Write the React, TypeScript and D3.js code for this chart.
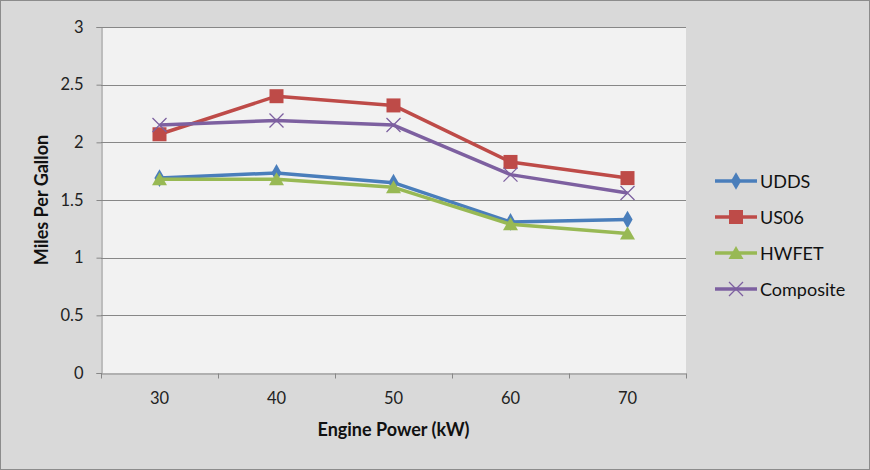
import React, { useEffect, useRef } from 'react';
import * as d3 from 'd3';

const enginePower = ['30', '40', '50', '60', '70'];
const udds = [1.69, 1.735, 1.65, 1.31, 1.33];
const us06 = [2.07, 2.4, 2.32, 1.83, 1.69];
const hwfet = [1.68, 1.68, 1.61, 1.29, 1.21];
const composite = [2.15, 2.19, 2.15, 1.72, 1.56];
const yTicks = [0, 0.5, 1, 1.5, 2, 2.5, 3];

const series = [
  { name: 'UDDS', values: udds, color: '#4a7ebb', marker: 'diamond' },
  { name: 'US06', values: us06, color: '#be4b48', marker: 'square' },
  { name: 'HWFET', values: hwfet, color: '#98b954', marker: 'triangle' },
  { name: 'Composite', values: composite, color: '#7d60a0', marker: 'x' },
];

const App = () => {
  const svgRef = useRef(null);

  useEffect(() => {
    const width = 870;
    const height = 470;
    const margin = { top: 27, right: 184, bottom: 97, left: 101 };
    const font = 'Lato, "Open Sans", sans-serif';

    const svg = d3.select(svgRef.current);
    svg.selectAll('*').remove();
    svg.attr('width', width).attr('height', height);

    // chart background + border
    svg.append('rect')
      .attr('x', 0.5).attr('y', 0.5)
      .attr('width', width - 1).attr('height', height - 1)
      .attr('fill', '#d9d9d9')
      .attr('stroke', '#8c8c8c');

    const x = d3.scaleBand().domain(enginePower).range([margin.left, width - margin.right]);
    const y = d3.scaleLinear().domain([0, 3]).range([height - margin.bottom, margin.top]);

    // plot area
    svg.append('rect')
      .attr('x', margin.left).attr('y', margin.top)
      .attr('width', width - margin.left - margin.right)
      .attr('height', height - margin.top - margin.bottom)
      .attr('fill', '#f2f2f2');

    // gridlines
    svg.append('g')
      .selectAll('line')
      .data(yTicks.filter(d => d > 0))
      .enter().append('line')
      .attr('x1', margin.left).attr('x2', width - margin.right)
      .attr('y1', d => Math.round(y(d)) + 0.5).attr('y2', d => Math.round(y(d)) + 0.5)
      .attr('stroke', '#878787').attr('stroke-width', 1.2);

    // y axis
    const yAxis = svg.append('g')
      .attr('transform', `translate(${margin.left + 0.5},0)`)
      .call(d3.axisLeft(y).tickValues(yTicks).tickSize(5).tickPadding(13).tickFormat(d3.format('')));
    yAxis.select('.domain').attr('stroke', '#878787');
    yAxis.selectAll('.tick line').attr('stroke', '#878787');
    yAxis.selectAll('text').attr('font-family', font).attr('font-size', 16.5).attr('fill', '#222');

    // x axis
    const xAxis = svg.append('g')
      .attr('transform', `translate(0,${height - margin.bottom + 0.5})`)
      .call(d3.axisBottom(x).tickSize(0).tickPadding(19));
    xAxis.select('.domain').attr('stroke', '#878787');
    xAxis.selectAll('text').attr('font-family', font).attr('font-size', 16.5).attr('fill', '#222');
    // category boundary ticks
    const bounds = enginePower.map(d => x(d)).concat([x(enginePower[enginePower.length - 1]) + x.bandwidth()]);
    xAxis.selectAll('.bound')
      .data(bounds)
      .enter().append('line')
      .attr('class', 'bound')
      .attr('x1', d => Math.round(d) + 0.5).attr('x2', d => Math.round(d) + 0.5)
      .attr('y1', 0).attr('y2', 5)
      .attr('stroke', '#878787');

    // axis titles
    svg.append('text')
      .attr('x', (margin.left + width - margin.right) / 2)
      .attr('y', 436)
      .attr('text-anchor', 'middle')
      .attr('font-family', font).attr('font-size', 18).attr('font-weight', 'bold')
      .attr('fill', '#111')
      .text('Engine Power (kW)');

    svg.append('text')
      .attr('transform', `translate(48,${(margin.top + height - margin.bottom) / 2}) rotate(-90)`)
      .attr('text-anchor', 'middle')
      .attr('font-family', font).attr('font-size', 18).attr('font-weight', 'bold')
      .attr('fill', '#111')
      .text('Miles Per Gallon');

    const cx = d => x(d) + x.bandwidth() / 2;

    const drawMarker = (g, type, color, px, py) => {
      if (type === 'diamond') {
        g.append('path')
          .attr('d', d3.symbol(d3.symbolDiamond, 90)())
          .attr('transform', `translate(${px},${py})`)
          .attr('fill', color);
      } else if (type === 'square') {
        g.append('rect')
          .attr('x', px - 7).attr('y', py - 7)
          .attr('width', 14).attr('height', 14)
          .attr('fill', color);
      } else if (type === 'triangle') {
        g.append('path')
          .attr('d', `M${px},${py - 7}L${px + 7.5},${py + 6}L${px - 7.5},${py + 6}Z`)
          .attr('fill', color);
      } else {
        g.append('path')
          .attr('d', `M${px - 7},${py - 7}L${px + 7},${py + 7}M${px - 7},${py + 7}L${px + 7},${py - 7}`)
          .attr('stroke', color).attr('stroke-width', 1.3).attr('fill', 'none');
      }
    };

    const line = d3.line()
      .x((d, i) => cx(enginePower[i]))
      .y(d => y(d));

    series.forEach(s => {
      const g = svg.append('g');
      g.append('path')
        .datum(s.values)
        .attr('d', line)
        .attr('fill', 'none')
        .attr('stroke', s.color)
        .attr('stroke-width', 3.5)
        .attr('stroke-linejoin', 'round');
      s.values.forEach((v, i) => drawMarker(g, s.marker, s.color, cx(enginePower[i]), y(v)));
    });

    // legend
    const legend = svg.append('g');
    series.forEach((s, i) => {
      const ly = 181 + i * 36;
      const row = legend.append('g');
      row.append('line')
        .attr('x1', 715).attr('x2', 757)
        .attr('y1', ly).attr('y2', ly)
        .attr('stroke', s.color).attr('stroke-width', 3.5);
      drawMarker(row, s.marker, s.color, 736, ly);
      row.append('text')
        .attr('x', 760).attr('y', ly + 6.5)
        .attr('font-family', font).attr('font-size', 18)
        .attr('fill', '#111')
        .text(s.name);
    });
  }, []);

  return <svg ref={svgRef} style={{ position: 'absolute', left: 0, top: 0 }}></svg>;
};

export default App;
